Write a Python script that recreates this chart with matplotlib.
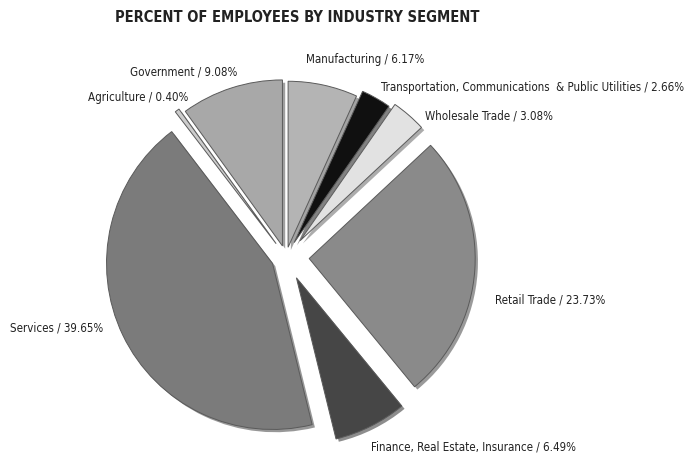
import matplotlib
matplotlib.use("Agg")
import matplotlib.pyplot as plt

plt.rcParams['font.family'] = ['DejaVu Sans']

# segments, clockwise from the top
segmentos = ['Manufacturing', 'Transportation, Communications  & Public Utilities',
             'Wholesale Trade', 'Retail Trade', 'Finance, Real Estate, Insurance',
             'Services', 'Agriculture', 'Government']
percentuais = [6.17, 2.66, 3.08, 23.73, 6.49, 39.65, 0.40, 9.08]
rotulos = [f'{s} / {p:.2f}%' for s, p in zip(segmentos, percentuais)]

cores = ['#b4b4b4', '#101010', '#e2e2e2', '#8a8a8a', '#464646', '#7b7b7b', '#cccccc', '#a8a8a8']
explodir = [0.06, 0.10, 0.13, 0.14, 0.14, 0.09, 0.10, 0.07]

# posicoes dos rotulos em pixels (x, y a partir do topo)
pos_rotulos = [(306, 60), (381, 88), (425, 116), (495, 300), (371, 447),
               (10, 328), (88, 97), (130, 72)]

L, A = 694, 459
fig = plt.figure(figsize=(L / 100, A / 100), dpi=100)
ax = fig.add_axes([0, 0, 1, 1])

cx, cy, escala = 286, 257, 166
ax.pie(percentuais, colors=cores, explode=explodir, startangle=90,
       counterclock=False, radius=1.0, center=(0, 0),
       shadow={'ox': 0.012, 'oy': -0.012, 'shade': 0.6, 'edgecolor': 'none'},
       wedgeprops=dict(edgecolor='#5a5a5a', linewidth=0.7))
ax.set_xlim(-cx / escala, (L - cx) / escala)
ax.set_ylim(-(A - cy) / escala, cy / escala)
ax.set_aspect('auto')
ax.axis('off')

for texto, (x, y) in zip(rotulos, pos_rotulos):
    fig.text(x / L, 1 - y / A, texto, fontsize=8.3, fontstretch='condensed',
             color='#222222', ha='left', va='center')

fig.text(297 / L, 1 - 18 / A, 'PERCENT OF EMPLOYEES BY INDUSTRY SEGMENT',
         fontsize=10.5, fontweight='bold', fontstretch='condensed',
         color='#222222', ha='center', va='center')

fig.savefig('out.png', dpi=100, facecolor='white')
